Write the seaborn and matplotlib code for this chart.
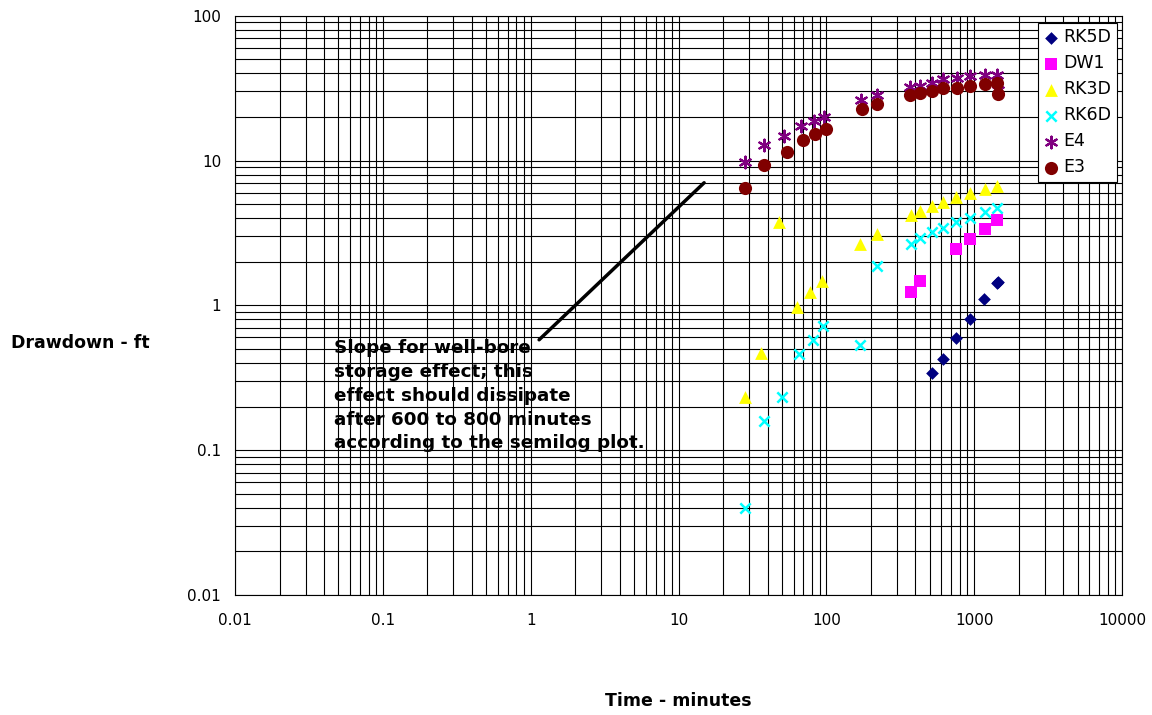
import numpy as np
import pandas as pd
import matplotlib
matplotlib.use("Agg")
import matplotlib.pyplot as plt
import seaborn as sns
from matplotlib.ticker import LogLocator, FuncFormatter, NullFormatter

# data (time in minutes, drawdown in ft)
rk5d_t = [517, 611, 755, 940, 1169, 1424, 1440]
rk5d_dd = [0.34, 0.425, 0.59, 0.80, 1.11, 1.42, 1.44]

dw1_t = [371, 430, 756, 939, 1175, 1430]
dw1_dd = [1.24, 1.47, 2.44, 2.89, 3.36, 3.88]

rk3d_t = [28, 36, 48, 63, 78, 94, 169, 220, 371, 430, 520, 611, 756, 939, 1175, 1430]
rk3d_dd = [0.231, 0.472, 3.76, 0.98, 1.23, 1.47, 2.66, 3.12, 4.20, 4.50, 4.82, 5.17,
           5.56, 5.92, 6.31, 6.69]

rk6d_t = [28, 38, 50, 65, 81, 95, 170, 220, 371, 430, 520, 611, 756, 939, 1175, 1430]
rk6d_dd = [0.040, 0.159, 0.231, 0.460, 0.578, 0.722, 0.531, 1.87, 2.66, 2.91, 3.20,
           3.43, 3.76, 4.04, 4.40, 4.70]

e4_t = [28, 38, 52, 67, 82, 97, 172, 220, 369, 430, 520, 611, 759, 939, 1175, 1424, 1440]
e4_dd = [9.7, 12.7, 14.7, 17.4, 18.7, 20.1, 26.3, 28.4, 32.1, 32.8, 34.3, 36.5,
         37.1, 38.1, 39.1, 39.1, 30.5]

e3_t = [28, 38, 54, 69, 84, 99, 175, 220, 369, 430, 520, 611, 759, 939, 1175, 1424, 1440]
e3_dd = [6.48, 9.3, 11.4, 13.9, 15.3, 16.6, 22.8, 24.7, 28.4, 29.1, 30.0, 31.7,
         31.7, 32.8, 33.7, 34.3, 29.0]

# unit-slope line for well-bore storage
slope_t = [1.14, 14.9]
slope_dd = [0.578, 7.02]

wells = {
    "RK5D": (rk5d_t, rk5d_dd),
    "DW1": (dw1_t, dw1_dd),
    "RK3D": (rk3d_t, rk3d_dd),
    "RK6D": (rk6d_t, rk6d_dd),
    "E4": (e4_t, e4_dd),
    "E3": (e3_t, e3_dd),
}
styles = {
    "RK5D": dict(color="#000080", marker="D", s=42),
    "DW1": dict(color="#FF00FF", marker="s", s=70),
    "RK3D": dict(color="#FFFF00", marker="^", s=85),
    "RK6D": dict(color="#00FFFF", marker="x", s=55, linewidth=1.8),
    "E4": dict(color="#800080", marker=(6, 2, 0), s=70, linewidth=1.6),
    "E3": dict(color="#800000", marker="o", s=90),
}

sns.set_style("white")
plt.rcParams["font.family"] = ["DejaVu Sans"]
plt.rcParams["text.color"] = "black"
plt.rcParams["axes.labelcolor"] = "black"
plt.rcParams["xtick.color"] = "black"
plt.rcParams["ytick.color"] = "black"

fig = plt.figure(figsize=(11.52, 7.15), dpi=100)
ax = fig.add_axes([0.204, 0.168, 0.770, 0.810])

ax.set_xscale("log")
ax.set_yscale("log")
ax.set_xlim(0.01, 10000)
ax.set_ylim(0.01, 100)

for name, (t, dd) in wells.items():
    df = pd.DataFrame({"time": t, "drawdown": dd})
    st = styles[name]
    kw = dict(marker=st["marker"], s=st["s"], color=st["color"], label=name, zorder=3)
    if name in ("RK6D", "E4"):
        kw["linewidth"] = st["linewidth"]
    else:
        kw["edgecolor"] = st["color"]
        kw["linewidth"] = 0
    sns.scatterplot(data=df, x="time", y="drawdown", ax=ax, **kw)

ax.plot(slope_t, slope_dd, color="black", lw=2.5, zorder=4)
ax.text(0.112, 0.441,
        "Slope for well-bore\nstorage effect; this\neffect should dissipate\n"
        "after 600 to 800 minutes\naccording to the semilog plot.",
        transform=ax.transAxes, ha="left", va="top", fontsize=13.2,
        fontweight="bold", linespacing=1.41, color="black", zorder=5)

# grid on every decade and sub-decade line
ax.xaxis.set_major_locator(LogLocator(base=10, numticks=20))
ax.yaxis.set_major_locator(LogLocator(base=10, numticks=20))
ax.xaxis.set_minor_locator(LogLocator(base=10, subs=np.arange(2, 10), numticks=20))
ax.yaxis.set_minor_locator(LogLocator(base=10, subs=np.arange(2, 10), numticks=20))
ax.xaxis.set_minor_formatter(NullFormatter())
ax.yaxis.set_minor_formatter(NullFormatter())
fmt = FuncFormatter(lambda v, p: "%g" % v)
ax.xaxis.set_major_formatter(fmt)
ax.yaxis.set_major_formatter(fmt)
ax.grid(which="both", color="black", lw=0.8)
ax.set_axisbelow(True)

ax.tick_params(axis="both", which="major", direction="out", length=4, width=0.8,
               labelsize=11, color="black", labelcolor="black")
ax.tick_params(axis="x", which="major", pad=9)
ax.tick_params(axis="y", which="major", pad=6)
ax.tick_params(axis="both", which="minor", length=0)
for sp in ax.spines.values():
    sp.set_color("black")
    sp.set_linewidth(0.8)

ax.set_xlabel("Time - minutes", fontsize=12.5, fontweight="bold", labelpad=46,
              color="black")
ax.set_ylabel("Drawdown - ft", fontsize=12.5, fontweight="bold", rotation=0,
              ha="center", va="center", color="black")
ax.yaxis.set_label_coords(-0.174, 0.435)

leg = ax.legend(loc="upper right", bbox_to_anchor=(0.998, 0.993), fontsize=12.5,
                frameon=True, fancybox=False, edgecolor="black", framealpha=1,
                borderpad=0.3, labelspacing=0.46, handletextpad=0.2,
                handlelength=1.0, borderaxespad=0.2)
leg.get_frame().set_linewidth(0.8)
for txt in leg.get_texts():
    txt.set_color("black")

fig.savefig("out.png", dpi=100)
